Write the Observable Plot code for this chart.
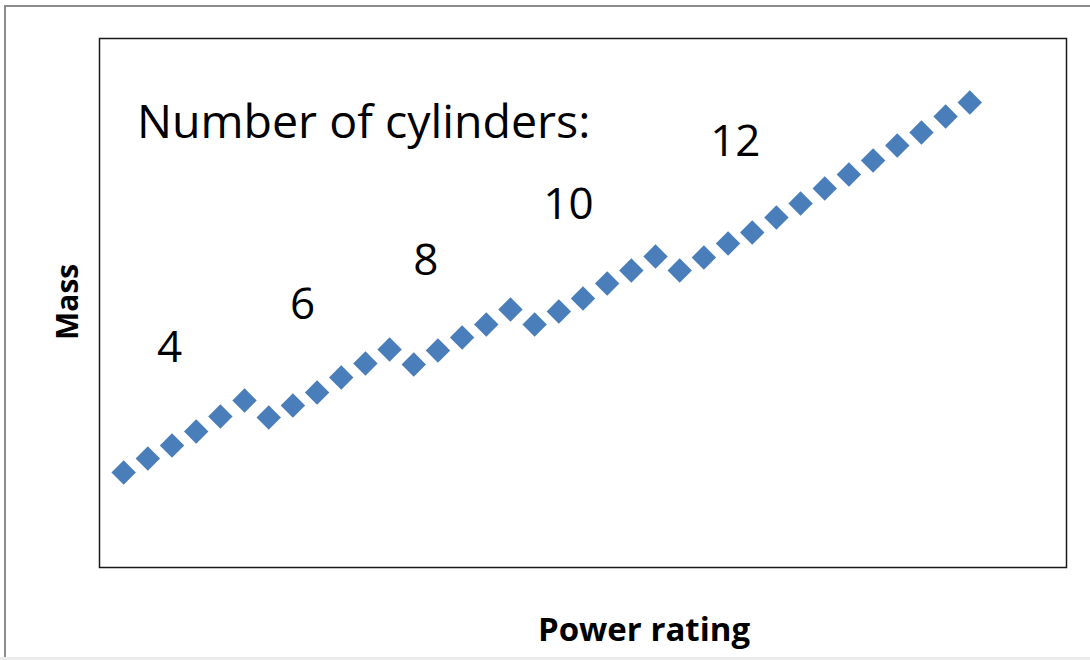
<!DOCTYPE html>
<html><head><meta charset="utf-8">
<script src="https://cdn.jsdelivr.net/npm/d3@7"></script>
<script src="https://cdn.jsdelivr.net/npm/@observablehq/plot@0.6"></script>
<style>
html,body{margin:0;padding:0;background:#fff;}
#wrap{position:relative;width:1090px;height:660px;overflow:hidden;}
#border{position:absolute;left:4px;top:5px;width:1200px;height:652px;border-left:2px solid #8c8c8c;border-top:2px solid #8c8c8c;box-sizing:border-box;}
#bottom{position:absolute;left:0;top:657px;width:1090px;height:3px;background:#ececec;}
#chart{position:absolute;left:0;top:0;}
</style></head>
<body><div id="wrap"><div id="border"></div><div id="bottom"></div><div id="chart"></div></div>
<script>
// Engine index (power rating order) and mass readings (arbitrary units)
const power = [1,2,3,4,5,6,7,8,9,10,11,12,13,14,15,16,17,18,19,20,21,22,23,24,25,26,27,28,29,30,31,32,33,34,35,36];
const mass  = [95,109,122,136,151,167,150,162,175,190,204,218,203,217,230,243,258,243,256,269,284,297,311,297,310,324,335,350,364,379,393,407,422,435,451,465];
const cylinders = [4,4,4,4,4,4,6,6,6,6,6,6,8,8,8,8,8,10,10,10,10,10,10,12,12,12,12,12,12,12,12,12,12,12,12,12,12];

// Group annotations
const groupLabels = ["4","6","8","10","12"];
const groupLabelX = [2.9, 8.4, 13.5, 19.4, 26.3];
const groupLabelY = [220, 263, 307, 363, 426];
const heading = ["Number of cylinders:"];
const headingX = [1.55];
const headingY = [430];
const xTitle = "Power rating";
const yTitle = "Mass";

const points = power.map((p, i) => ({power: p, mass: mass[i], cyl: cylinders[i]}));
const labels = groupLabels.map((t, i) => ({t, x: groupLabelX[i], y: groupLabelY[i]}));
const heads = heading.map((t, i) => ({t, x: headingX[i], y: headingY[i]}));

const chart = Plot.plot({
  width: 1090,
  height: 660,
  marginLeft: 99,
  marginRight: 24,
  marginTop: 38,
  marginBottom: 93,
  style: {background: "transparent", fontFamily: "'Open Sans', sans-serif"},
  x: {domain: [0, 40], axis: null},
  y: {domain: [0, 529], axis: null},
  marks: [
    Plot.frame({stroke: "#1a1a1a", strokeWidth: 1.5}),
    Plot.dot(points, {x: "power", y: "mass", symbol: "diamond2", r: 11, fill: "#4a7ebb", stroke: "none"}),
    Plot.text(labels, {x: "x", y: "y", text: "t", fontSize: 44, fill: "#000", fontFamily: "'Open Sans', sans-serif"}),
    Plot.text(heads, {x: "x", y: "y", text: "t", fontSize: 46.5, fill: "#000", textAnchor: "start", lineAnchor: "bottom", fontFamily: "'Open Sans', sans-serif"}),
    Plot.text([xTitle], {frameAnchor: "bottom", dx: 61, dy: 73, lineAnchor: "bottom", fontSize: 33, fontWeight: "bold", fill: "#000", fontFamily: "'Open Sans', sans-serif"}),
    Plot.text([yTitle], {frameAnchor: "left", dx: -31, dy: 37, rotate: -90, fontSize: 30, fontWeight: "bold", fill: "#000", fontFamily: "'Open Sans', sans-serif"})
  ]
});
document.getElementById("chart").appendChild(chart);
</script>
</body></html>
